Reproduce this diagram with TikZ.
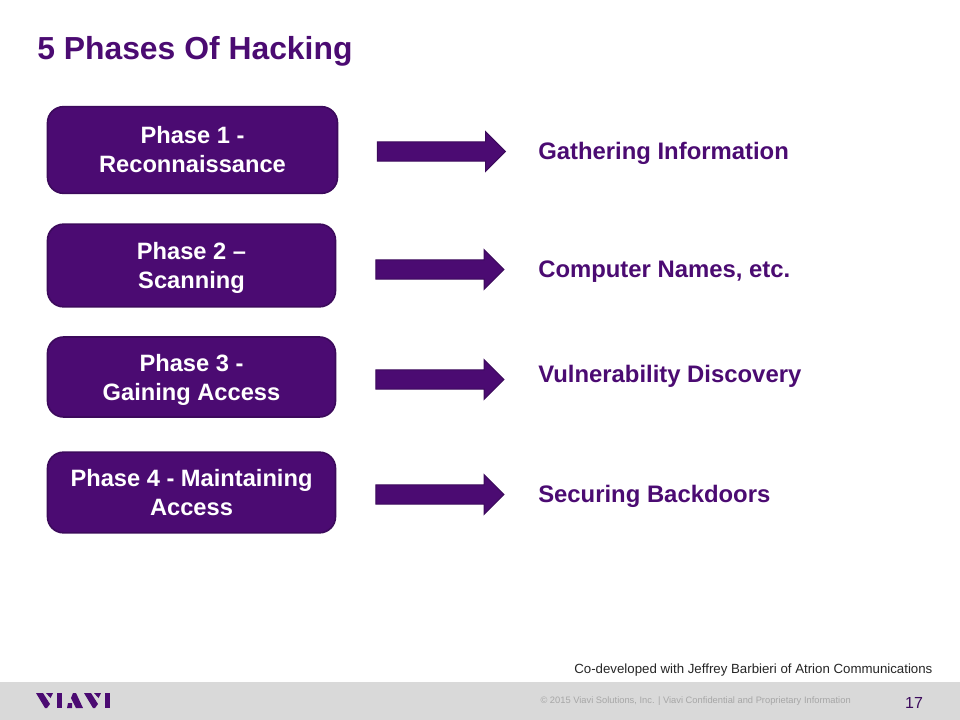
\documentclass[tikz,border=0pt]{standalone}
\usepackage{fontspec}
\setmainfont{Liberation Sans}
\usetikzlibrary{shapes.arrows}
\definecolor{vpurple}{HTML}{4B0B72}
\definecolor{vedge}{HTML}{3C0A5C}
\definecolor{vgrey}{HTML}{D9D9D9}
\tikzset{x=0.75pt,y=-0.75pt,
 phasebox/.style={draw=vedge,line width=1.2pt,fill=vpurple,rounded corners=12pt,text=white,font=\fontsize{17.75pt}{21.8pt}\selectfont\bfseries,align=center,inner sep=0pt},
 blockarrow/.style={single arrow,draw=vedge,line width=0.8pt,fill=vpurple,minimum height=96pt,single arrow head extend=7.6pt,single arrow tip angle=90,inner xsep=0pt,inner ysep=6.8pt},
 resulttext/.style={text=vpurple,font=\fontsize{17.9pt}{20pt}\selectfont\bfseries,anchor=base west,inner sep=0pt},
 logopart/.style={fill=vpurple,draw=none}}
\begin{document}
\begin{tikzpicture}
\useasboundingbox (0,0) rectangle (960,720);
\fill[white] (0,0) rectangle (960,720);
\fill[vgrey] (0,682) rectangle (960,720);
\node[anchor=base west,inner sep=0pt,text=vpurple,font=\fontsize{23.9pt}{26pt}\selectfont\bfseries] (title) at (37,60) {5 Phases Of Hacking};
\node[phasebox,minimum width=217.5pt,minimum height=65pt] (p1) at (192.5,150) {Phase 1 -\\Reconnaissance};
\node[phasebox,minimum width=216pt,minimum height=62pt] (p2) at (191.5,265.5) {\rule{0pt}{15.9pt}Phase 2 –\\Scanning};
\node[phasebox,minimum width=216pt,minimum height=60pt] (p3) at (191.5,377) {\rule{0pt}{17.4pt}Phase 3 -\\Gaining Access};
\node[phasebox,minimum width=216pt,minimum height=60.5pt] (p4) at (191.5,492.5) {Phase 4 - Maintaining\\Access};
\node[blockarrow] (a1) at (436.5,151.5) {};
\node[blockarrow] (a2) at (435,269.5) {};
\node[blockarrow] (a3) at (435,379.5) {};
\node[blockarrow] (a4) at (435,494.5) {};
\node[resulttext] (r1) at (538,160) {Gathering Information};
\node[resulttext] (r2) at (538,277) {Computer Names, etc.};
\node[resulttext] (r3) at (538,382) {Vulnerability Discovery};
\node[resulttext] (r4) at (538,502) {Securing Backdoors};
\node[anchor=base east,inner sep=0pt,font=\fontsize{9.95pt}{11pt}\selectfont,text=black!85] (credit) at (932.7,673) {Co-developed with Jeffrey Barbieri of Atrion Communications};
\node[anchor=base east,inner sep=0pt,font=\fontsize{7pt}{8pt}\selectfont,text=black!35] (legal) at (851,703) {© 2015 Viavi Solutions, Inc. | Viavi Confidential and Proprietary Information};
\node[anchor=base,inner sep=0pt,font=\fontsize{12pt}{14pt}\selectfont,text=vedge] (page) at (914,708) {17};
% VIAVI logo
\fill[logopart] (36,693) -- (43,693) -- (50,704) -- (47,708) -- (45,708) -- cycle;
\fill[logopart] (46,693) -- (53,693) -- (50.5,698) -- cycle;
\fill[logopart] (57,693) -- (62,693) -- (62,708) -- (57,708) -- cycle;
\fill[logopart] (73,693) -- (76,693) -- (83,708) -- (76,708) -- (71,698) -- cycle;
\fill[logopart] (68,703) -- (72,703) -- (72,708) -- (67,708) -- cycle;
\fill[logopart] (84,693) -- (91,693) -- (98,704) -- (95,708) -- (93,708) -- cycle;
\fill[logopart] (94,693) -- (101,693) -- (98.5,698) -- cycle;
\fill[logopart] (105,693) -- (110,693) -- (110,708) -- (105,708) -- cycle;
\end{tikzpicture}
\end{document}
